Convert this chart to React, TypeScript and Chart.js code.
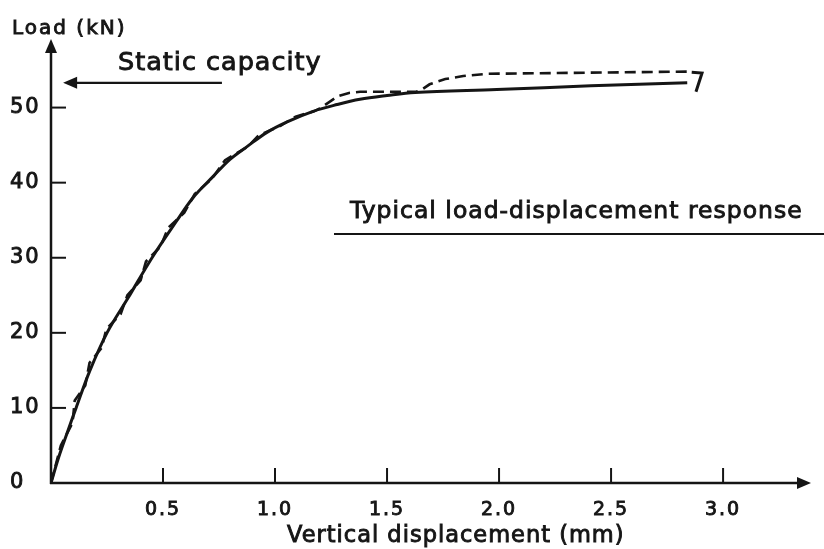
import React, { useEffect, useRef } from "react";
import { Chart, registerables } from "chart.js";

Chart.register(...registerables);

// ---- data (displacement in mm, load in kN) ----
const SOLID_DISP = [0, 0.035, 0.07, 0.112, 0.174, 0.25, 0.345, 0.451, 0.563, 0.634, 0.723, 0.799, 0.875, 0.964, 1.054, 1.17, 1.277, 1.379, 1.5, 1.625, 1.99, 2.41, 2.84];
const SOLID_LOAD = [0, 3.5, 6.5, 10, 15, 20, 24.7, 30, 35, 38, 40.8, 43.1, 44.8, 46.7, 48.1, 49.5, 50.4, 51.1, 51.6, 52, 52.4, 52.9, 53.3];

const DASHED_DISP = [0, 0.044, 0.096, 0.106, 0.153, 0.172, 0.226, 0.247, 0.311, 0.341, 0.4, 0.424, 0.489, 0.523, 0.595, 0.642, 0.718, 0.777, 0.879, 0.927, 1.026, 1.092, 1.174, 1.2, 1.24, 1.28, 1.33, 1.38, 1.63, 1.66, 1.69, 1.76, 1.84, 1.95, 2.4, 2.86];
const DASHED_LOAD = [0, 5, 8, 11, 13, 16, 18, 20.5, 22.5, 25, 27, 29.5, 31.5, 34, 36, 38.5, 40.5, 43, 44.8, 46.3, 47.6, 48.8, 49.5, 49.9, 50.7, 51.5, 51.95, 52.1, 52.1, 52.5, 53.1, 53.8, 54.2, 54.5, 54.65, 54.8];

const HOOK_DISP = [2.86, 2.906, 2.879];
const HOOK_LOAD = [54.7, 54.6, 52.1];

const X_TICKS = [0.5, 1.0, 1.5, 2.0, 2.5, 3.0];
const Y_TICKS = [0, 10, 20, 30, 40, 50];

const STATIC_CAPACITY = 53.3;
const STATIC_ARROW_FROM = 0.763;
const STATIC_ARROW_TO = 0.054;

const Y_TITLE = "Load (kN)";
const X_TITLE = "Vertical displacement (mm)";
const STATIC_LABEL = "Static capacity";
const CAPTION = "Typical load-displacement response";

const FONT = "'DejaVu Sans', sans-serif";
const INK = "#151515";

const toPoints = (xs: number[], ys: number[]) => xs.map((x, i) => ({ x, y: ys[i] }));

const drawText = (ctx: CanvasRenderingContext2D, text: string, x: number, y: number) => {
  ctx.fillText(text, x, y);
  ctx.strokeText(text, x, y);
};

const decorPlugin = {
  id: "decor",
  beforeDraw(chart: any) {
    const ctx = chart.ctx;
    ctx.save();
    ctx.fillStyle = "#ffffff";
    ctx.fillRect(0, 0, chart.width, chart.height);
    ctx.restore();
    ctx.letterSpacing = "2px";
  },
  afterDraw(chart: any) {
    const ctx = chart.ctx as CanvasRenderingContext2D;
    const xs = chart.scales.x;
    const ys = chart.scales.y;
    const x0 = xs.getPixelForValue(0);
    const y0 = ys.getPixelForValue(0);
    const area = chart.chartArea;
    ctx.save();
    ctx.strokeStyle = INK;
    ctx.fillStyle = INK;
    ctx.lineWidth = 2.5;
    ctx.lineCap = "butt";

    // y axis with arrow
    ctx.beginPath();
    ctx.moveTo(x0, y0 + 1);
    ctx.lineTo(x0, area.top + 12);
    ctx.stroke();
    ctx.beginPath();
    ctx.moveTo(x0, area.top - 1);
    ctx.lineTo(x0 - 6, area.top + 13);
    ctx.lineTo(x0 + 6, area.top + 13);
    ctx.closePath();
    ctx.fill();

    // x axis with arrow
    ctx.beginPath();
    ctx.moveTo(x0 - 1, y0);
    ctx.lineTo(area.right - 12, y0);
    ctx.stroke();
    ctx.beginPath();
    ctx.moveTo(area.right + 1, y0);
    ctx.lineTo(area.right - 13, y0 - 6);
    ctx.lineTo(area.right - 13, y0 + 6);
    ctx.closePath();
    ctx.fill();

    // inner ticks
    ctx.lineWidth = 2;
    X_TICKS.forEach((v) => {
      const px = xs.getPixelForValue(v);
      ctx.beginPath();
      ctx.moveTo(px, y0);
      ctx.lineTo(px, y0 - 15);
      ctx.stroke();
    });
    Y_TICKS.forEach((v) => {
      if (v === 0) return;
      const py = ys.getPixelForValue(v);
      ctx.beginPath();
      ctx.moveTo(x0, py);
      ctx.lineTo(x0 + 15, py);
      ctx.stroke();
    });

    // static capacity arrow
    const sy = ys.getPixelForValue(STATIC_CAPACITY);
    const sFrom = xs.getPixelForValue(STATIC_ARROW_FROM);
    const sTo = xs.getPixelForValue(STATIC_ARROW_TO);
    ctx.lineWidth = 2.2;
    ctx.beginPath();
    ctx.moveTo(sFrom, sy);
    ctx.lineTo(sTo + 12, sy);
    ctx.stroke();
    ctx.beginPath();
    ctx.moveTo(sTo, sy);
    ctx.lineTo(sTo + 14, sy - 6);
    ctx.lineTo(sTo + 14, sy + 6);
    ctx.closePath();
    ctx.fill();

    // texts
    ctx.textBaseline = "middle";
    ctx.textAlign = "left";
    ctx.lineWidth = 0.9;
    ctx.letterSpacing = "2px";
    ctx.font = `20px ${FONT}`;
    drawText(ctx, Y_TITLE, 12, 29);
    ctx.font = `25.5px ${FONT}`;
    ctx.letterSpacing = "1px";
    drawText(ctx, STATIC_LABEL, 118, 63);
    ctx.font = `23.5px ${FONT}`;
    ctx.letterSpacing = "1px";
    drawText(ctx, CAPTION, 350, 212);
    ctx.font = `22.5px ${FONT}`;
    drawText(ctx, X_TITLE, 287, 536);

    // caption underline
    ctx.lineWidth = 2;
    ctx.beginPath();
    ctx.moveTo(334, 234);
    ctx.lineTo(824, 234);
    ctx.stroke();
    ctx.restore();
  },
};

export default function App() {
  const canvasRef = useRef<HTMLCanvasElement | null>(null);

  useEffect(() => {
    if (!canvasRef.current) return;
    const chart = new Chart(canvasRef.current, {
      type: "line",
      data: {
        datasets: [
          {
            label: "Static response",
            data: toPoints(SOLID_DISP, SOLID_LOAD),
            borderColor: INK,
            borderWidth: 3,
            pointRadius: 0,
            tension: 0.35,
            fill: false,
          },
          {
            label: "Cyclic response",
            data: toPoints(DASHED_DISP, DASHED_LOAD),
            borderColor: INK,
            borderWidth: 2.6,
            borderDash: [11, 6],
            pointRadius: 0,
            tension: 0,
            fill: false,
          },
          {
            label: "End",
            data: toPoints(HOOK_DISP, HOOK_LOAD),
            borderColor: INK,
            borderWidth: 3,
            pointRadius: 0,
            tension: 0,
            fill: false,
          },
        ],
      },
      options: {
        animation: false,
        responsive: true,
        maintainAspectRatio: false,
        layout: { padding: { top: 40, right: 14, left: 10, bottom: 0 } },
        plugins: { legend: { display: false }, tooltip: { enabled: false } },
        scales: {
          x: {
            type: "linear",
            min: 0,
            max: 3.388,
            grid: { display: false, drawTicks: false },
            border: { display: false },
            afterBuildTicks: (s: any) => {
              s.ticks = X_TICKS.map((value) => ({ value }));
            },
            afterFit: (s: any) => {
              s.height = 66;
            },
            ticks: {
              color: INK,
              font: { family: FONT, size: 19 },
              padding: 16,
              maxRotation: 0,
              autoSkip: false,
              textStrokeColor: INK,
              textStrokeWidth: 0.9,
              callback: (v: any) => Number(v).toFixed(1),
            },
          },
          y: {
            type: "linear",
            min: 0,
            max: 59,
            grid: { display: false, drawTicks: false },
            border: { display: false },
            afterBuildTicks: (s: any) => {
              s.ticks = Y_TICKS.map((value) => ({ value }));
            },
            afterFit: (s: any) => {
              s.width = 41;
            },
            ticks: {
              color: INK,
              font: { family: FONT, size: 21 },
              crossAlign: "far",
              padding: 0,
              autoSkip: false,
              textStrokeColor: INK,
              textStrokeWidth: 0.9,
              callback: (v: any) => String(v),
            },
          },
        },
      },
      plugins: [decorPlugin],
    } as any);
    return () => chart.destroy();
  }, []);

  return (
    <div style={{ position: "absolute", left: 0, top: 0, width: 824, height: 549, background: "#fff" }}>
      <canvas ref={canvasRef} />
    </div>
  );
}
